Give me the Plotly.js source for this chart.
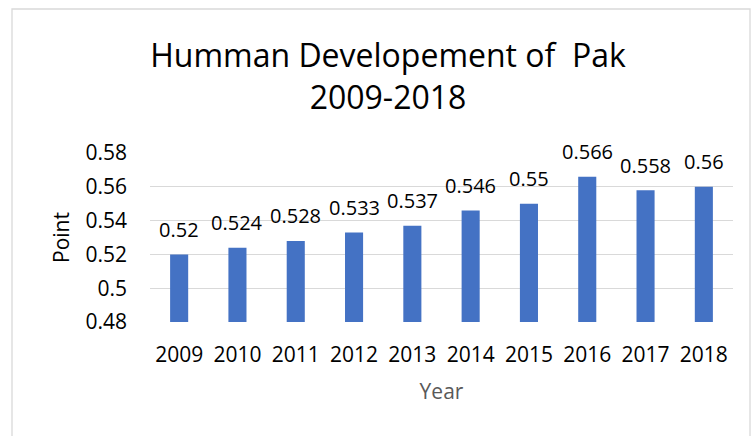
<!DOCTYPE html>
<html>
<head>
<meta charset="utf-8">
<script src="https://cdn.plot.ly/plotly-3.0.1.min.js"></script>
<style>
  html, body { margin: 0; padding: 0; background: #fff; }
  #chart { width: 751px; height: 436px; }
</style>
</head>
<body>
<div id="chart"></div>
<script>
// Human Development Index of Pakistan, 2009-2018
const years = ['2009', '2010', '2011', '2012', '2013', '2014', '2015', '2016', '2017', '2018'];
const hdiValues = [0.52, 0.524, 0.528, 0.533, 0.537, 0.546, 0.55, 0.566, 0.558, 0.56];
const yTickValues = [0.48, 0.5, 0.52, 0.54, 0.56, 0.58];
const yTickLabels = ['0.48', '0.5', '0.52', '0.54', '0.56', '0.58'];

const FONT = '"Open Sans", sans-serif';

// plot area edges in pixels
const W = 751, H = 436;
const M = { l: 150, r: 18, t: 153, b: 114 };
const pw = W - M.l - M.r, ph = H - M.t - M.b;
const px = x => (x - M.l) / pw;
const py = y => (H - M.b - y) / ph;

const trace = {
  type: 'bar',
  x: years,
  y: hdiValues,
  base: 0,
  marker: { color: '#4472c4' },
  hoverinfo: 'x+y'
};

// value labels sitting above each bar (x is the category index)
const valueLabels = years.map((yr, i) => ({
  x: i, y: hdiValues[i], xref: 'x', yref: 'y',
  text: String(hdiValues[i]),
  showarrow: false,
  yanchor: 'middle',
  yshift: 25,
  font: { family: FONT, size: 20, color: '#000000' }
}));

const layout = {
  width: W,
  height: H,
  margin: M,
  paper_bgcolor: '#ffffff',
  plot_bgcolor: '#ffffff',
  bargap: 0.69,
  showlegend: false,
  font: { family: FONT, color: '#262626' },
  title: {
    text: 'Humman Developement of  Pak<br>2009-2018',
    font: { family: FONT, size: 32, color: '#000000' },
    x: px(388), xref: 'paper', xanchor: 'center',
    y: 1 - 67 / H, yref: 'container', yanchor: 'top'
  },
  xaxis: {
    type: 'category',
    tickfont: { family: FONT, size: 21, color: '#000000' },
    ticks: '',
    showline: false,
    showgrid: false,
    ticklabelstandoff: 18,
    title: { text: 'Year', font: { family: FONT, size: 21, color: '#595959' }, standoff: 17 }
  },
  yaxis: {
    range: [0.48, 0.58],
    tickvals: yTickValues,
    ticktext: yTickLabels,
    tickfont: { family: FONT, size: 21, color: '#000000' },
    ticks: '',
    showline: false,
    showgrid: true,
    gridcolor: '#d9d9d9',
    gridwidth: 1,
    zeroline: false,
    ticklabelstandoff: 22,
    title: { text: 'Point', font: { family: FONT, size: 21, color: '#000000' }, standoff: 10 }
  },
  annotations: valueLabels,
  shapes: [{
    type: 'rect', xref: 'paper', yref: 'paper',
    x0: px(12), x1: px(750), y0: py(9), y1: py(460),
    line: { color: '#d9d9d9', width: 1.3 },
    fillcolor: 'rgba(0,0,0,0)',
    layer: 'below'
  }]
};

Plotly.newPlot('chart', [trace], layout, { displayModeBar: false, staticPlot: true });
</script>
</body>
</html>
